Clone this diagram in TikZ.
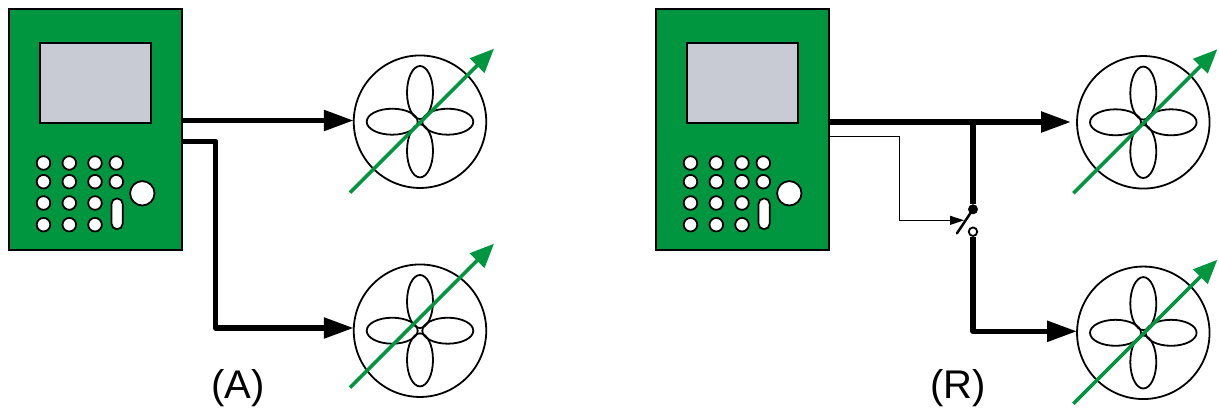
\documentclass[tikz,border=0pt]{standalone}
\usepackage{fontspec}
\setmainfont{Liberation Sans}
\usetikzlibrary{arrows.meta,shapes.geometric}
\definecolor{devgreen}{RGB}{0,150,64}
\definecolor{screengrey}{RGB}{200,203,211}
\tikzset{
  body/.style={draw=black,fill=devgreen,line width=1.8pt,minimum width=172.6pt,minimum height=241pt,inner sep=0pt,outer sep=0pt},
  lcd/.style={draw=black,fill=screengrey,line width=1.8pt,minimum width=111.6pt,minimum height=79.6pt,inner sep=0pt},
  key/.style={circle,draw=black,fill=white,line width=1.8pt,minimum size=13.6pt,inner sep=0pt},
  bigkey/.style={circle,draw=black,fill=white,line width=1.8pt,minimum size=24.4pt,inner sep=0pt},
  slot/.style={draw=black,fill=white,line width=1.8pt,rounded corners=5.5pt,minimum width=11.2pt,minimum height=30.8pt,inner sep=0pt},
  motor/.style={circle,draw=black,fill=white,line width=1.8pt,minimum size=132.5pt,inner sep=0pt,outer sep=0pt},
  vpetal/.style={ellipse,draw=black,line width=1.8pt,minimum width=26pt,minimum height=53pt,inner sep=0pt},
  hpetal/.style={ellipse,draw=black,line width=1.8pt,minimum width=51pt,minimum height=26pt,inner sep=0pt},
  adjust/.style={draw=devgreen,line width=3.5pt,-{Triangle[length=24pt,width=20pt]}},
  power/.style={draw=black,line width=5.5pt,line join=round,-{Triangle[length=30pt,width=20pt]}},
  feed/.style={draw=black,line width=5.5pt},
  ctrl/.style={draw=black,line width=.8pt,-{Triangle[length=14pt,width=9pt]}},
  blade/.style={draw=black,line width=2.5pt,line cap=round},
  closedpin/.style={circle,fill=black,draw=black,minimum size=9.5pt,inner sep=0pt},
  openpin/.style={circle,fill=white,draw=black,line width=1.8pt,minimum size=8.5pt,inner sep=0pt},
  caption/.style={font=\fontsize{40}{40}\selectfont,inner sep=0pt},
}
\newcommand{\controller}[2]{%
  \node[body] (#1) at (#2+95.5,129.3) {};
  \node[lcd] (#1lcd) at (#2+95.5,82.85) {};
  \foreach \kx/\ky/\kn in {43.5/163/a,69.3/163/b,95/163/c,116.3/163/d,
                           43.5/181.7/e,69.3/181.7/f,95/181.7/g,116.3/181.7/h,
                           43.5/203/i,69.3/203/j,95/203/k,
                           43.5/224.7/l,69.3/224.7/m,95/224.7/n}
    \node[key] (#1\kn) at (#2+\kx,\ky) {};
  \node[slot] (#1slot) at (#2+117.1,213.8) {};
  \node[bigkey] (#1big) at (#2+142.3,193.3) {};
}
% name, x, y, vertical shift of the adjusting arrow
\newcommand{\fan}[4]{%
  \node[motor] (#1) at (#2,#3) {};
  \node[vpetal] (#1n) at (#2,#3-29.2) {};
  \node[vpetal] (#1s) at (#2,#3+29.2) {};
  \node[hpetal] (#1w) at (#2-27.8,#3) {};
  \node[hpetal] (#1e) at (#2+27.8,#3) {};
  \coordinate (#1from) at (#2-70,#3+71+#4);
  \coordinate (#1to) at (#2+74,#3-73+#4);
  \draw[adjust] (#1from) -- (#1to);
}
\begin{document}
\begin{tikzpicture}[x=1pt,y=-1pt]
\useasboundingbox (0,0) rectangle (1219,410);
% (A)
\controller{devA}{0}
\fan{fanAa}{420}{121.7}{0}
\fan{fanAb}{420}{330.7}{-14}
\coordinate (outAa) at (182,120.5);
\coordinate (outAb) at (182,141.3);
\coordinate (bendAa) at (215.7,141.3);
\coordinate (bendAb) at (215.7,328);
\draw[power] (outAa) -- (fanAa.west |- outAa);
\draw[power] (outAb) -- (bendAa) -- (bendAb) -- (fanAb.west |- bendAb);
\node[caption] (capA) at (238,388) {(A)};
% (R)
\controller{devR}{647}
\fan{fanRa}{1143.3}{122.3}{0}
\fan{fanRb}{1143.3}{332.8}{0}
\coordinate (outRa) at (829.5,122);
\coordinate (outRb) at (829.5,136);
\coordinate (tee) at (973,122);
\coordinate (endRa) at (1071,122);
\coordinate (bendRa) at (899.3,136);
\coordinate (bendRb) at (899.3,220.3);
\coordinate (bladeLow) at (957,233.3);
\coordinate (ctrlEnd) at (964,220.3);
\coordinate (bendRc) at (973,331.3);
\node[closedpin] (pinC) at (973,209.3) {};
\node[openpin] (pinO) at (973,231.7) {};
\draw[power] (outRa) -- (endRa);
\draw[feed] (tee) -- (pinC);
\draw[power] (pinO) -- (bendRc) -- (fanRb.west |- bendRc);
\draw[blade] (bladeLow) -- (pinC.center);
\draw[ctrl] (outRb) -- (bendRa) -- (bendRb) -- (ctrlEnd);
\node[caption] (capR) at (958,388) {(R)};
\end{tikzpicture}
\end{document}
